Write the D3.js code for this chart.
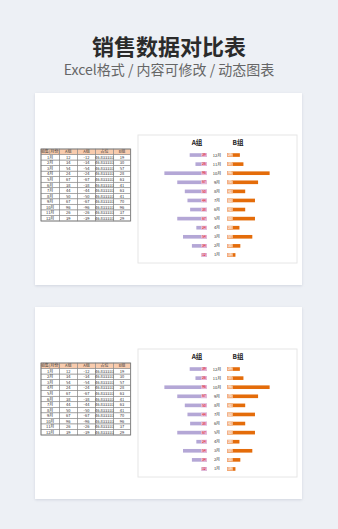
<!DOCTYPE html>
<html>
<head>
<meta charset="utf-8">
<script src="https://cdn.jsdelivr.net/npm/d3@7"></script>
<style>
body { margin: 0; background: #edf0f5; }
svg { display: block; font-family: "Noto Sans CJK SC", "Noto Sans", sans-serif; }
</style>
</head>
<body>
<svg id="chart"></svg>
<script>
var months = ["1月", "2月", "3月", "4月", "5月", "6月", "7月", "8月", "9月", "10月", "11月", "12月"];
var groupA = [12, 34, 54, 24, 67, 38, 44, 50, 67, 96, 26, 39];
var groupB = [19, 30, 57, 28, 63, 41, 63, 41, 70, 96, 37, 29];
var helperValue = "46.833333";
var tableHeaders = ["销售(月份)", "A组", "A组", "占位", "B组"];
var seriesNames = ["A组", "B组"];

var svg = d3.select("#chart")
    .attr("width", 338)
    .attr("height", 529);

var defs = svg.append("defs");
var shadow = defs.append("filter").attr("id", "shadow")
    .attr("x", "-5%").attr("y", "-5%").attr("width", "110%").attr("height", "110%");
shadow.append("feDropShadow")
    .attr("dx", 0).attr("dy", 1).attr("stdDeviation", 1.5)
    .attr("flood-color", "#9aa3b5").attr("flood-opacity", 0.35);

// header text
svg.append("text")
    .attr("x", 169).attr("y", 55)
    .attr("text-anchor", "middle")
    .attr("font-size", 22).attr("font-weight", "bold")
    .attr("fill", "#2b2b2b")
    .text("销售数据对比表");

svg.append("text")
    .attr("x", 169).attr("y", 75)
    .attr("text-anchor", "middle")
    .attr("font-size", 14)
    .attr("fill", "#666")
    .text("Excel格式 / 内容可修改 / 动态图表");

function drawCard(top) {
    var g = svg.append("g").attr("transform", "translate(0," + top + ")");

    g.append("rect")
        .attr("x", 35).attr("y", 0)
        .attr("width", 267).attr("height", 192)
        .attr("fill", "#fff")
        .attr("filter", "url(#shadow)");

    // ---- table ----
    var colEdges = [41, 59.3, 77.3, 95.7, 113.3, 130.7];
    var rows = d3.scaleBand().domain(d3.range(13)).range([56, 128]);

    var tableRows = months.map(function(m, i) {
        return [m, groupA[i], -groupA[i], helperValue, groupB[i]];
    });

    var tg = g.append("g");
    tg.append("rect")
        .attr("x", colEdges[0]).attr("y", rows(0))
        .attr("width", colEdges[5] - colEdges[0]).attr("height", rows.bandwidth())
        .attr("fill", "#f8cbad");

    [tableHeaders].concat(tableRows).forEach(function(row, r) {
        row.forEach(function(val, c) {
            tg.append("rect")
                .attr("x", colEdges[c]).attr("y", rows(r))
                .attr("width", colEdges[c + 1] - colEdges[c])
                .attr("height", rows.bandwidth())
                .attr("fill", "none")
                .attr("stroke", "#8c8c8c")
                .attr("stroke-width", 0.5);
            tg.append("text")
                .attr("x", (colEdges[c] + colEdges[c + 1]) / 2)
                .attr("y", rows(r) + rows.bandwidth() / 2 + 1.5)
                .attr("text-anchor", "middle")
                .attr("font-size", 4)
                .attr("fill", "#333")
                .text(val);
        });
    });
    tg.append("rect")
        .attr("x", colEdges[0]).attr("y", rows(0))
        .attr("width", colEdges[5] - colEdges[0]).attr("height", rows.range()[1] - rows(0))
        .attr("fill", "none").attr("stroke", "#777").attr("stroke-width", 0.8);

    // ---- chart frame ----
    g.append("rect")
        .attr("x", 138).attr("y", 42)
        .attr("width", 159).attr("height", 128)
        .attr("fill", "#fff")
        .attr("stroke", "#e6e6e6").attr("stroke-width", 1);

    var y = d3.scaleBand()
        .domain(months.slice().reverse())
        .range([57.5, 166.5])
        .paddingInner(0.6).paddingOuter(0.3);
    var len = d3.scaleLinear().domain([0, 100]).range([0, 44.4]);
    var centerA = 207, centerB = 227, labelX = 217;

    g.append("text").attr("x", 197).attr("y", 52)
        .attr("text-anchor", "middle").attr("font-size", 6.5).attr("font-weight", "bold")
        .attr("fill", "#222").text(seriesNames[0]);
    g.append("text").attr("x", 238).attr("y", 52)
        .attr("text-anchor", "middle").attr("font-size", 6.5).attr("font-weight", "bold")
        .attr("fill", "#222").text(seriesNames[1]);

    var data = months.map(function(m, i) { return { month: m, a: groupA[i], b: groupB[i] }; });

    // A bars (to the left)
    g.selectAll(".barA").data(data).enter().append("rect")
        .attr("x", function(d) { return centerA - len(d.a); })
        .attr("y", function(d) { return y(d.month); })
        .attr("width", function(d) { return len(d.a); })
        .attr("height", y.bandwidth())
        .attr("fill", "#b4a7d6");
    g.selectAll(".boxA").data(data).enter().append("rect")
        .attr("x", centerA - 6)
        .attr("y", function(d) { return y(d.month); })
        .attr("width", 6)
        .attr("height", y.bandwidth())
        .attr("fill", "#e6b8d6");
    g.selectAll(".labA").data(data).enter().append("text")
        .attr("x", centerA - 3)
        .attr("y", function(d) { return y(d.month) + y.bandwidth() / 2 + 1.2; })
        .attr("text-anchor", "middle").attr("font-size", 3.2)
        .attr("fill", "#e00000")
        .text(function(d) { return d.a; });

    // B bars (to the right)
    g.selectAll(".barB").data(data).enter().append("rect")
        .attr("x", centerB)
        .attr("y", function(d) { return y(d.month); })
        .attr("width", function(d) { return len(d.b); })
        .attr("height", y.bandwidth())
        .attr("fill", "#e46c0a");
    g.selectAll(".boxB").data(data).enter().append("rect")
        .attr("x", centerB)
        .attr("y", function(d) { return y(d.month); })
        .attr("width", 6)
        .attr("height", y.bandwidth())
        .attr("fill", "#f4b183");
    g.selectAll(".labB").data(data).enter().append("text")
        .attr("x", centerB + 3)
        .attr("y", function(d) { return y(d.month) + y.bandwidth() / 2 + 1.2; })
        .attr("text-anchor", "middle").attr("font-size", 3.2)
        .attr("fill", "#fff")
        .text(function(d) { return d.b; });

    // month labels
    g.selectAll(".mon").data(data).enter().append("text")
        .attr("x", labelX)
        .attr("y", function(d) { return y(d.month) + y.bandwidth() / 2 + 1.5; })
        .attr("text-anchor", "middle").attr("font-size", 4)
        .attr("fill", "#333")
        .text(function(d) { return d.month; });
}

drawCard(93);
drawCard(307);
</script>
</body>
</html>
